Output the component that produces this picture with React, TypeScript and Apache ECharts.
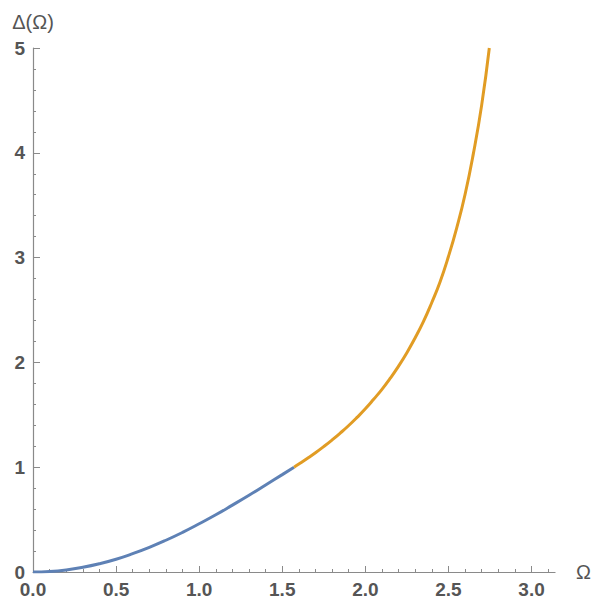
import React, { useEffect, useRef } from "react";
import * as echarts from "echarts";

// Ω values and Δ(Ω) values
const blueOmega = [0, 0.1, 0.2, 0.3, 0.4, 0.5, 0.6, 0.7, 0.8, 0.9, 1.0, 1.1, 1.2, 1.3, 1.4, 1.5, 1.571];
const blueDelta = [0, 0.005, 0.02, 0.045, 0.079, 0.122, 0.175, 0.235, 0.303, 0.378, 0.46, 0.546, 0.638, 0.732, 0.83, 0.929, 1.0];

const orangeOmega = [1.571, 1.6, 1.65, 1.7, 1.75, 1.8, 1.85, 1.9, 1.95, 2.0, 2.05, 2.1, 2.15, 2.2, 2.25, 2.3, 2.35, 2.4, 2.45, 2.5, 2.55, 2.6, 2.65, 2.7, 2.746];
const orangeDelta = [1.0, 1.03, 1.083, 1.138, 1.197, 1.26, 1.327, 1.398, 1.475, 1.557, 1.648, 1.743, 1.849, 1.965, 2.093, 2.235, 2.391, 2.572, 2.77, 3.01, 3.284, 3.602, 3.992, 4.455, 5.0];

const xMajorTicks = [0, 0.5, 1.0, 1.5, 2.0, 2.5, 3.0];
const xMinorTicks = [0.1, 0.2, 0.3, 0.4, 0.6, 0.7, 0.8, 0.9, 1.1, 1.2, 1.3, 1.4, 1.6, 1.7, 1.8, 1.9, 2.1, 2.2, 2.3, 2.4, 2.6, 2.7, 2.8, 2.9, 3.1];
const xMax = 3.1416;
const yMin = 0;
const yMax = 5;
const yInterval = 1;

const labelColor = "#555555";
const axisColor = "#8a8a8a";
const blue = "#5E81B5";
const orange = "#E19C24";

export default function App() {
  const ref = useRef<HTMLDivElement>(null);

  useEffect(() => {
    if (!ref.current) return;
    const chart = echarts.init(ref.current, null, { renderer: "svg" });
    const font = "Arial, 'Liberation Sans', sans-serif";
    chart.setOption({
      animation: false,
      backgroundColor: "#ffffff",
      grid: { left: 33, right: 35, top: 48, bottom: 26, containLabel: false },
      xAxis: [
        {
          type: "value",
          min: 0,
          max: xMax,
          position: "bottom",
          name: "Ω",
          nameLocation: "end",
          nameGap: 21,
          nameTextStyle: { color: labelColor, fontSize: 20, fontFamily: font },
          axisLine: { show: true, onZero: false, lineStyle: { color: axisColor, width: 1.2 } },
          axisTick: { show: true, inside: true, length: 6, customValues: xMajorTicks, lineStyle: { color: axisColor } },
          axisLabel: {
            show: true,
            customValues: xMajorTicks,
            margin: 8,
            formatter: (v: number) => v.toFixed(1),
            color: labelColor,
            fontSize: 19,
            fontWeight: "bold",
            fontFamily: font,
          },
          splitLine: { show: false },
        },
        {
          type: "value",
          min: 0,
          max: xMax,
          position: "bottom",
          axisLine: { show: false, onZero: false },
          axisTick: { show: true, inside: true, length: 3, customValues: xMinorTicks, lineStyle: { color: axisColor } },
          axisLabel: { show: false },
          splitLine: { show: false },
        },
      ],
      yAxis: {
        type: "value",
        min: yMin,
        max: yMax,
        interval: yInterval,
        name: "Δ(Ω)",
        nameLocation: "end",
        nameGap: 16,
        nameTextStyle: { color: labelColor, fontSize: 20, fontFamily: font, align: "center" },
        axisLine: { show: true, onZero: false, lineStyle: { color: axisColor, width: 1.2 } },
        axisTick: { show: true, inside: true, length: 7, lineStyle: { color: axisColor } },
        minorTick: { show: true, splitNumber: 5, length: 3, lineStyle: { color: axisColor } },
        axisLabel: {
          margin: 8,
          color: labelColor,
          fontSize: 19,
          fontWeight: "bold",
          fontFamily: font,
        },
        splitLine: { show: false },
      },
      series: [
        {
          type: "line",
          xAxisIndex: 0,
          data: blueOmega.map((x, i) => [x, blueDelta[i]]),
          showSymbol: false,
          smooth: true,
          lineStyle: { color: blue, width: 3 },
          itemStyle: { color: blue },
        },
        {
          type: "line",
          xAxisIndex: 0,
          data: orangeOmega.map((x, i) => [x, orangeDelta[i]]),
          showSymbol: false,
          smooth: true,
          lineStyle: { color: orange, width: 3 },
          itemStyle: { color: orange },
        },
      ],
    });
    return () => chart.dispose();
  }, []);

  return (
    <div
      ref={ref}
      style={{ position: "absolute", left: 0, top: 0, width: 594, height: 599 }}
    />
  );
}
